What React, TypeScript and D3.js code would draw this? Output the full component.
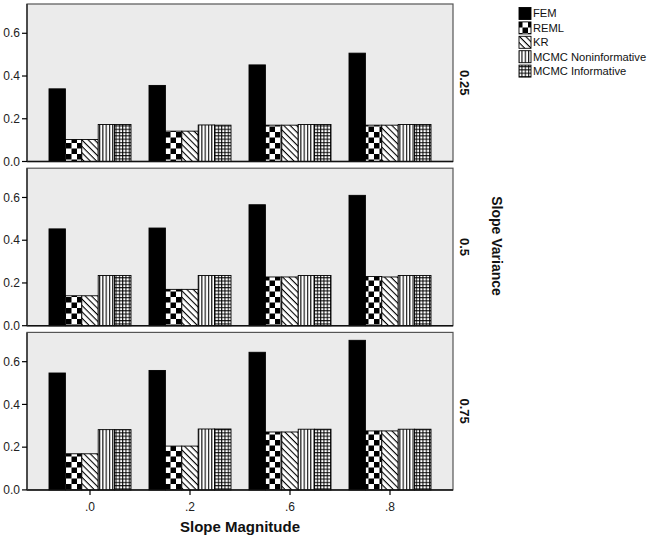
import React from "react";
import * as d3 from "d3";

const categories = [".0", ".2", ".6", ".8"];
const seriesNames = ["FEM", "REML", "KR", "MCMC Noninformative", "MCMC Informative"];
const panelLabels = ["0.25", "0.5", "0.75"];

// values per panel (slope variance), per series, per category
const fem25 = [0.34, 0.356, 0.452, 0.507];
const reml25 = [0.103, 0.142, 0.17, 0.17];
const kr25 = [0.103, 0.142, 0.17, 0.17];
const mni25 = [0.173, 0.171, 0.173, 0.173];
const mi25 = [0.173, 0.17, 0.173, 0.173];

const fem50 = [0.453, 0.457, 0.566, 0.61];
const reml50 = [0.14, 0.17, 0.228, 0.23];
const kr50 = [0.14, 0.17, 0.228, 0.228];
const mni50 = [0.235, 0.235, 0.235, 0.235];
const mi50 = [0.235, 0.235, 0.235, 0.235];

const fem75 = [0.547, 0.559, 0.644, 0.7];
const reml75 = [0.169, 0.205, 0.271, 0.276];
const kr75 = [0.169, 0.205, 0.271, 0.276];
const mni75 = [0.282, 0.285, 0.284, 0.284];
const mi75 = [0.282, 0.285, 0.284, 0.284];

const yTicks = [0, 0.2, 0.4, 0.6];

const panels = [
  [fem25, reml25, kr25, mni25, mi25],
  [fem50, reml50, kr50, mni50, mi50],
  [fem75, reml75, kr75, mni75, mi75],
];

const fills = ["#000", "url(#pChk)", "url(#pDiag)", "url(#pVert)", "url(#pGrid)"];
const FONT = "'Liberation Sans', Arial, sans-serif";

export default function App() {
  const left = 27;
  const right = 453;
  const panelH = 157.5;
  const panelStep = 164.2;
  const top0 = 4;

  const x0 = d3
    .scaleBand<string>()
    .domain(categories)
    .range([left, right])
    .paddingInner(0.18)
    .paddingOuter(0.22);
  const x1 = d3
    .scaleBand<string>()
    .domain(seriesNames)
    .range([0, x0.bandwidth()]);
  const fmt = d3.format(".1f");

  return (
    <svg
      width={651}
      height={543}
      style={{ position: "absolute", left: 0, top: 0, background: "#fff" }}
      fontFamily={FONT}
    >
      <defs>
        <pattern id="pChk" width={11} height={11} patternUnits="userSpaceOnUse">
          <rect width={11} height={11} fill="#fff" />
          <rect width={5.5} height={5.5} fill="#000" />
          <rect x={5.5} y={5.5} width={5.5} height={5.5} fill="#000" />
        </pattern>
        <pattern id="pDiag" width={4.5} height={4.5} patternUnits="userSpaceOnUse" patternTransform="rotate(45)">
          <rect width={4.5} height={4.5} fill="#fff" />
          <line x1={0} y1={0} x2={4.5} y2={0} stroke="#000" strokeWidth={2.2} />
        </pattern>
        <pattern id="pVert" width={3.3} height={4} patternUnits="userSpaceOnUse">
          <rect width={3.3} height={4} fill="#fff" />
          <line x1={0.6} y1={0} x2={0.6} y2={4} stroke="#000" strokeWidth={1.1} />
        </pattern>
        <pattern id="pGrid" width={3.3} height={3.3} patternUnits="userSpaceOnUse">
          <rect width={3.3} height={3.3} fill="#fff" />
          <line x1={0.6} y1={0} x2={0.6} y2={3.3} stroke="#000" strokeWidth={1} />
          <line x1={0} y1={0.6} x2={3.3} y2={0.6} stroke="#000" strokeWidth={1} />
        </pattern>
      </defs>

      {panels.map((series, pi) => {
        const top = top0 + pi * panelStep;
        const bottom = top + panelH;
        const y = d3.scaleLinear().domain([0, 0.737]).range([bottom, top]);
        return (
          <g key={pi}>
            <rect x={left} y={top} width={right - left} height={panelH} fill="#ebebeb" stroke="#555" strokeWidth={1.2} />
            {series.map((vals, si) =>
              vals.map((v, ci) => (
                <rect
                  key={si + "-" + ci}
                  x={(x0(categories[ci]) ?? 0) + (x1(seriesNames[si]) ?? 0)}
                  y={y(v)}
                  width={x1.bandwidth()}
                  height={bottom - y(v)}
                  fill={fills[si]}
                  stroke="#000"
                  strokeWidth={0.9}
                />
              ))
            )}
            <line x1={left} x2={right} y1={bottom} y2={bottom} stroke="#111" strokeWidth={1.5} />
            <line x1={left} x2={left} y1={top} y2={bottom} stroke="#333" strokeWidth={1.5} />
            {yTicks.map((t) => (
              <g key={t}>
                <line x1={left - 5} x2={left} y1={y(t)} y2={y(t)} stroke="#000" strokeWidth={1.2} />
                <text x={left - 7} y={y(t)} dy="0.35em" textAnchor="end" fontSize={12} fill="#222">
                  {fmt(t)}
                </text>
              </g>
            ))}
            <text
              transform={`translate(${465},${(top + bottom) / 2}) rotate(90)`}
              textAnchor="middle"
              dy="0.35em"
              fontSize={13}
              fontWeight="bold"
              fill="#111"
            >
              {panelLabels[pi]}
            </text>
          </g>
        );
      })}

      {categories.map((c) => {
        const cx = (x0(c) ?? 0) + x0.bandwidth() / 2;
        const by = top0 + 2 * panelStep + panelH;
        return (
          <g key={c}>
            <line x1={cx} x2={cx} y1={by} y2={by + 5} stroke="#000" strokeWidth={1.2} />
            <text x={cx} y={by + 21} textAnchor="middle" fontSize={12} fill="#222">
              {c}
            </text>
          </g>
        );
      })}

      <text x={240} y={532} textAnchor="middle" fontSize={15} fontWeight="bold" fill="#111">
        Slope Magnitude
      </text>
      <text
        transform={`translate(${497},${246}) rotate(90)`}
        textAnchor="middle"
        dy="0.35em"
        fontSize={14}
        fontWeight="bold"
        fill="#111"
      >
        Slope Variance
      </text>

      {seriesNames.map((s, i) => {
        const ly = 7.5 + i * 14.4;
        return (
          <g key={s}>
            <rect x={519} y={ly} width={12} height={12} fill={fills[i]} stroke="#000" strokeWidth={0.9} />
            <text x={533} y={ly + 6} dy="0.35em" fontSize={11.2} fill="#111">
              {s}
            </text>
          </g>
        );
      })}
    </svg>
  );
}
